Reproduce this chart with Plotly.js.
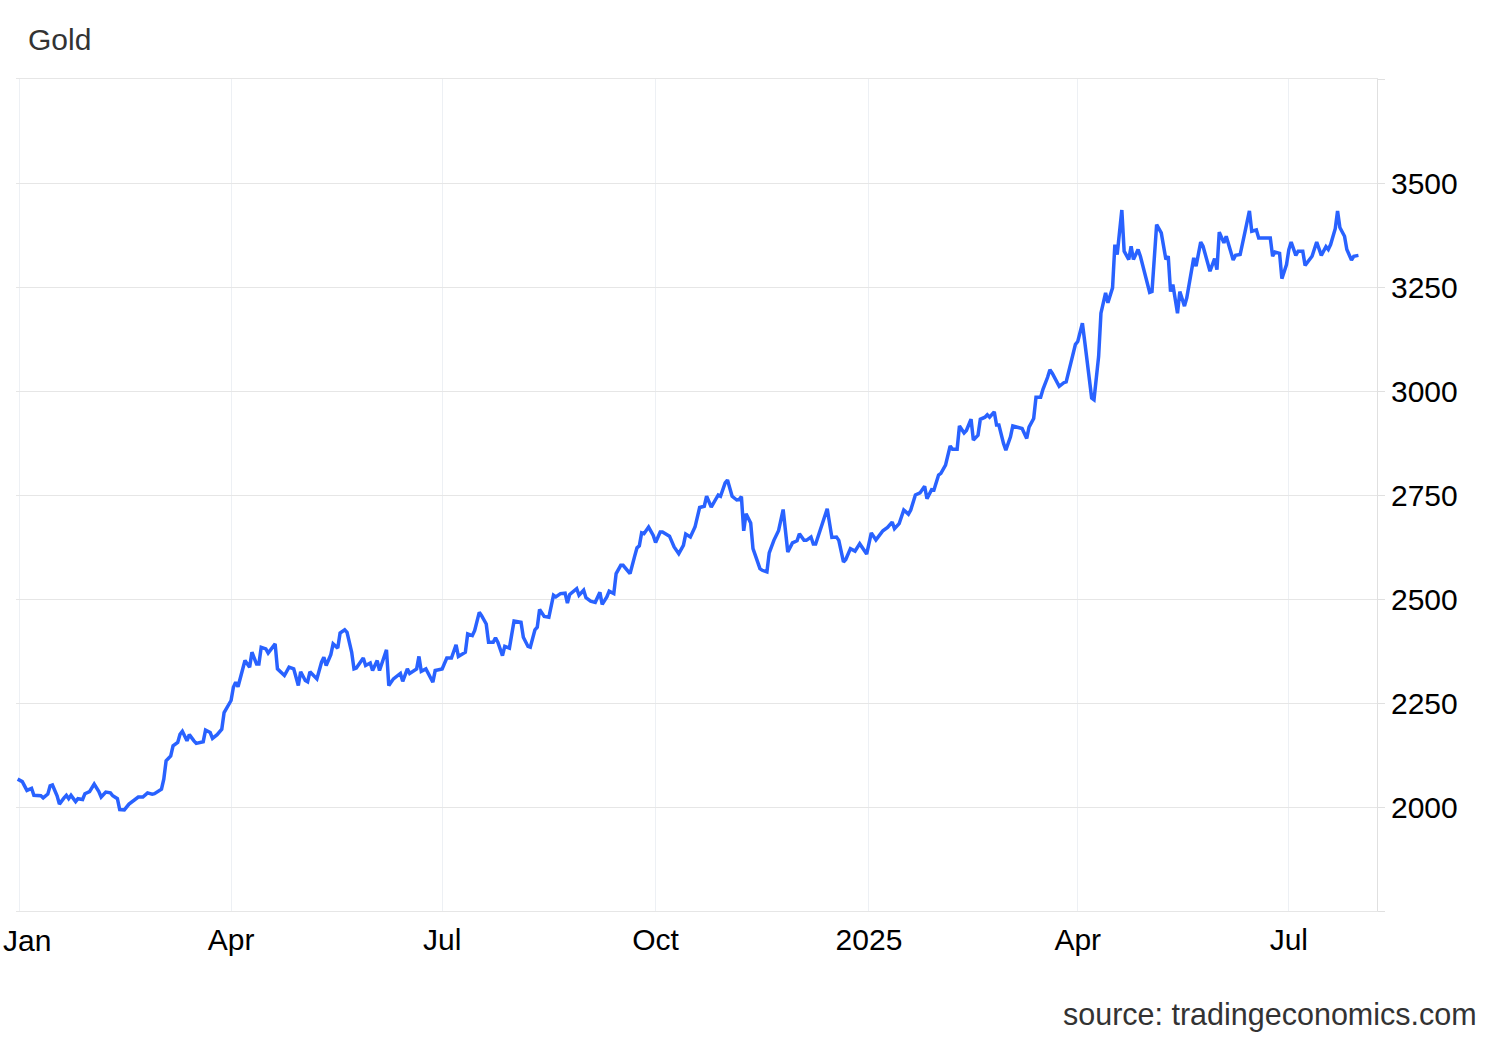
<!DOCTYPE html>
<html>
<head>
<meta charset="utf-8">
<script src="https://cdn.plot.ly/plotly-3.0.1.min.js"></script>
<style>
html,body{margin:0;padding:0;background:#fff;}
#chart{width:1500px;height:1040px;}
</style>
</head>
<body>
<div id="chart"></div>
<script>
const chartTitle = "Gold";
const sourceText = "source: tradingeconomics.com";

const dates = [
"2023-12-31","2024-01-02","2024-01-04","2024-01-06","2024-01-07","2024-01-10","2024-01-11","2024-01-13","2024-01-14","2024-01-15",
"2024-01-17","2024-01-18","2024-01-20","2024-01-21","2024-01-22","2024-01-23","2024-01-25","2024-01-26","2024-01-28","2024-01-29",
"2024-01-31","2024-02-02","2024-02-04","2024-02-05","2024-02-07","2024-02-09","2024-02-10","2024-02-12","2024-02-13","2024-02-15",
"2024-02-17","2024-02-19","2024-02-21","2024-02-23","2024-02-25","2024-02-27","2024-02-28","2024-03-02","2024-03-03","2024-03-04",
"2024-03-06","2024-03-07","2024-03-09","2024-03-10","2024-03-11","2024-03-13","2024-03-14","2024-03-16","2024-03-17","2024-03-20",
"2024-03-21","2024-03-23","2024-03-24","2024-03-26","2024-03-28","2024-03-29","2024-04-01","2024-04-02","2024-04-03","2024-04-04",
"2024-04-06","2024-04-07","2024-04-09","2024-04-10","2024-04-12","2024-04-13","2024-04-14","2024-04-16","2024-04-17","2024-04-20",
"2024-04-21","2024-04-24","2024-04-26","2024-04-28","2024-04-30","2024-05-01","2024-05-03","2024-05-04","2024-05-05","2024-05-08",
"2024-05-10","2024-05-11","2024-05-12","2024-05-14","2024-05-15","2024-05-17","2024-05-18","2024-05-20","2024-05-21","2024-05-23",
"2024-05-24","2024-05-25","2024-05-28","2024-05-29","2024-05-31","2024-06-01","2024-06-03","2024-06-04","2024-06-07","2024-06-08",
"2024-06-10","2024-06-13","2024-06-14","2024-06-16","2024-06-17","2024-06-20","2024-06-21","2024-06-22","2024-06-24","2024-06-27",
"2024-06-28","2024-07-01","2024-07-03","2024-07-05","2024-07-07","2024-07-08","2024-07-11","2024-07-12","2024-07-14","2024-07-15",
"2024-07-17","2024-07-18","2024-07-20","2024-07-21","2024-07-23","2024-07-24","2024-07-25","2024-07-27","2024-07-28","2024-07-30",
"2024-07-31","2024-08-01","2024-08-04","2024-08-05","2024-08-07","2024-08-08","2024-08-10","2024-08-11","2024-08-12","2024-08-14",
"2024-08-16","2024-08-18","2024-08-19","2024-08-21","2024-08-23","2024-08-24","2024-08-25","2024-08-28","2024-08-29","2024-08-31",
"2024-09-01","2024-09-03","2024-09-05","2024-09-07","2024-09-08","2024-09-10","2024-09-11","2024-09-13","2024-09-14","2024-09-16",
"2024-09-17","2024-09-20","2024-09-22","2024-09-23","2024-09-24","2024-09-25","2024-09-26","2024-09-28","2024-09-30","2024-10-01",
"2024-10-03","2024-10-04","2024-10-07","2024-10-09","2024-10-11","2024-10-13","2024-10-14","2024-10-16","2024-10-18","2024-10-20",
"2024-10-22","2024-10-23","2024-10-25","2024-10-28","2024-10-29","2024-10-31","2024-11-01","2024-11-03","2024-11-05","2024-11-06",
"2024-11-07","2024-11-08","2024-11-09","2024-11-11","2024-11-12","2024-11-15","2024-11-16","2024-11-18","2024-11-19","2024-11-21",
"2024-11-23","2024-11-25","2024-11-27","2024-11-29","2024-12-01","2024-12-02","2024-12-04","2024-12-05","2024-12-07","2024-12-08",
"2024-12-09","2024-12-12","2024-12-14","2024-12-16","2024-12-18","2024-12-19","2024-12-21","2024-12-22","2024-12-24","2024-12-26",
"2024-12-28","2024-12-31","2025-01-01","2025-01-02","2025-01-04","2025-01-07","2025-01-09","2025-01-11","2025-01-12","2025-01-14",
"2025-01-16","2025-01-18","2025-01-19","2025-01-21","2025-01-23","2025-01-25","2025-01-26","2025-01-28","2025-01-29","2025-01-31",
"2025-02-01","2025-02-03","2025-02-05","2025-02-06","2025-02-08","2025-02-09","2025-02-11","2025-02-12","2025-02-14","2025-02-15",
"2025-02-17","2025-02-18","2025-02-20","2025-02-21","2025-02-22","2025-02-24","2025-02-25","2025-02-26","2025-02-28","2025-03-01",
"2025-03-03","2025-03-04","2025-03-06","2025-03-08","2025-03-10","2025-03-11","2025-03-13","2025-03-14","2025-03-16","2025-03-17",
"2025-03-19","2025-03-20","2025-03-21","2025-03-24","2025-03-26","2025-03-27","2025-03-29","2025-03-31","2025-04-01","2025-04-03",
"2025-04-04","2025-04-06","2025-04-07","2025-04-08","2025-04-10","2025-04-11","2025-04-13","2025-04-14","2025-04-16","2025-04-17",
"2025-04-18","2025-04-20","2025-04-21","2025-04-23","2025-04-24","2025-04-25","2025-04-27","2025-04-28","2025-05-01","2025-05-02",
"2025-05-03","2025-05-05","2025-05-07","2025-05-09","2025-05-10","2025-05-11","2025-05-12","2025-05-14","2025-05-15","2025-05-17",
"2025-05-18","2025-05-20","2025-05-21","2025-05-22","2025-05-24","2025-05-25","2025-05-27","2025-05-28","2025-05-30","2025-05-31",
"2025-06-01","2025-06-03","2025-06-04","2025-06-05","2025-06-07","2025-06-08","2025-06-10","2025-06-12","2025-06-14","2025-06-15",
"2025-06-17","2025-06-18","2025-06-20","2025-06-23","2025-06-24","2025-06-25","2025-06-27","2025-06-28","2025-06-30","2025-07-01",
"2025-07-02","2025-07-04","2025-07-05","2025-07-07","2025-07-08","2025-07-10","2025-07-11","2025-07-13","2025-07-14","2025-07-15",
"2025-07-17","2025-07-18","2025-07-19","2025-07-21","2025-07-22","2025-07-23","2025-07-25","2025-07-26","2025-07-28","2025-07-29",
"2025-07-31"
];

const prices = [
2067,2061,2040,2045,2028,2027,2022,2031,2051,2053,
2027,2007,2022,2028,2020,2028,2013,2020,2018,2032,
2037,2055,2037,2024,2036,2034,2027,2020,1994,1993,
2007,2016,2024,2024,2034,2031,2032,2043,2067,2111,
2123,2147,2155,2175,2182,2159,2174,2159,2153,2157,
2185,2179,2165,2174,2187,2227,2256,2288,2300,2289,
2332,2352,2336,2372,2344,2344,2384,2380,2370,2392,
2332,2316,2336,2332,2292,2325,2304,2301,2325,2308,
2348,2360,2340,2366,2392,2382,2418,2426,2420,2372,
2332,2334,2358,2340,2346,2328,2352,2328,2378,2292,
2308,2321,2302,2332,2321,2332,2362,2326,2332,2300,
2328,2332,2358,2358,2390,2362,2372,2416,2412,2424,
2468,2460,2440,2396,2396,2407,2396,2364,2386,2382,
2415,2447,2444,2408,2386,2384,2426,2432,2475,2458,
2456,2509,2505,2513,2514,2490,2511,2525,2509,2521,
2503,2495,2492,2516,2487,2505,2519,2513,2561,2581,
2581,2561,2603,2623,2628,2659,2657,2673,2653,2636,
2661,2661,2651,2625,2609,2629,2656,2649,2673,2720,
2723,2747,2721,2750,2747,2779,2786,2747,2738,2739,
2746,2664,2705,2683,2621,2573,2569,2565,2611,2641,
2664,2715,2613,2635,2640,2657,2641,2641,2649,2632,
2632,2681,2717,2648,2649,2641,2589,2595,2621,2615,
2633,2608,2635,2659,2642,2664,2672,2685,2669,2681,
2714,2704,2714,2750,2755,2771,2741,2763,2762,2798,
2802,2822,2868,2860,2860,2916,2899,2905,2932,2882,
2894,2932,2937,2943,2937,2950,2918,2918,2874,2858,
2890,2916,2913,2910,2886,2913,2934,2985,2985,3004,
3033,3051,3043,3011,3020,3022,3067,3112,3119,3163,
3119,3035,2983,2979,3083,3187,3236,3212,3248,3352,
3328,3435,3336,3316,3348,3316,3340,3324,3260,3237,
3239,3400,3380,3316,3324,3239,3256,3187,3239,3204,
3224,3292,3320,3300,3358,3348,3304,3288,3318,3292,
3382,3356,3372,3352,3315,3326,3328,3380,3433,3384,
3387,3368,3368,3368,3324,3334,3331,3270,3304,3340,
3358,3326,3336,3336,3302,3315,3324,3358,3344,3326,
3347,3340,3352,3390,3433,3393,3372,3340,3315,3324,
3326
];

const xTickVals = ["2024-01-01","2024-04-01","2024-07-01","2024-10-01","2025-01-01","2025-04-01","2025-07-01"];
const xTickText = ["","Apr","Jul","Oct","2025","Apr","Jul"];
const firstTickLabel = "Jan";
const yTickVals = [1750,2000,2250,2500,2750,3000,3250,3500,3750];
const yTickText = ["","2000","2250","2500","2750","3000","3250","3500",""];

const FONT = "Helvetica, 'Liberation Sans', Arial, sans-serif";

const trace = {
  type: "scatter",
  mode: "lines",
  x: dates,
  y: prices,
  line: {color: "#2962ff", width: 3.5},
  hoverinfo: "x+y"
};

const layout = {
  width: 1500,
  height: 1040,
  paper_bgcolor: "#ffffff",
  plot_bgcolor: "#ffffff",
  margin: {l: 16, r: 123, t: 79, b: 129, pad: 0},
  showlegend: false,
  font: {family: FONT, size: 30, color: "#000"},
  title: {
    text: chartTitle,
    font: {family: FONT, size: 30, color: "#333333"},
    xref: "container", x: 28/1500, xanchor: "left",
    yref: "container", y: 1 - 39/1040, yanchor: "middle"
  },
  xaxis: {
    type: "date",
    range: ["2023-12-30 07:00", "2025-08-08"],
    tickmode: "array",
    tickvals: xTickVals,
    ticktext: xTickText,
    showgrid: true,
    gridcolor: "#edf0f4",
    gridwidth: 1,
    zeroline: false,
    showline: true,
    mirror: true,
    linecolor: "#e6e6e6",
    linewidth: 1,
    ticks: "",
    ticklabelstandoff: 2,
    tickfont: {family: FONT, size: 30, color: "#000"},
    fixedrange: true
  },
  yaxis: {
    side: "right",
    range: [1750, 3750],
    tickmode: "array",
    tickvals: yTickVals,
    ticktext: yTickText,
    showgrid: true,
    gridcolor: "#e6e6e6",
    gridwidth: 1,
    zeroline: false,
    showline: true,
    linecolor: "#e0e0e0",
    linewidth: 1,
    ticks: "outside",
    ticklen: 7,
    tickcolor: "#e0e0e0",
    tickwidth: 1,
    tickfont: {family: FONT, size: 30, color: "#000"},
    fixedrange: true
  },
  annotations: [{
    text: firstTickLabel,
    xref: "paper", x: (1 - 16) / 1361, xanchor: "left",
    yref: "paper", y: -(940 - 911) / 832, yanchor: "middle",
    showarrow: false,
    font: {family: FONT, size: 30, color: "#000"}
  }, {
    text: sourceText,
    xref: "paper", x: (1479 - 16) / 1361, xanchor: "right",
    yref: "paper", y: -(1014 - 911) / 832, yanchor: "middle",
    showarrow: false,
    font: {family: FONT, size: 30.5, color: "#333333"}
  }]
};

Plotly.newPlot("chart", [trace], layout, {displayModeBar: false, staticPlot: true});
</script>
</body>
</html>
